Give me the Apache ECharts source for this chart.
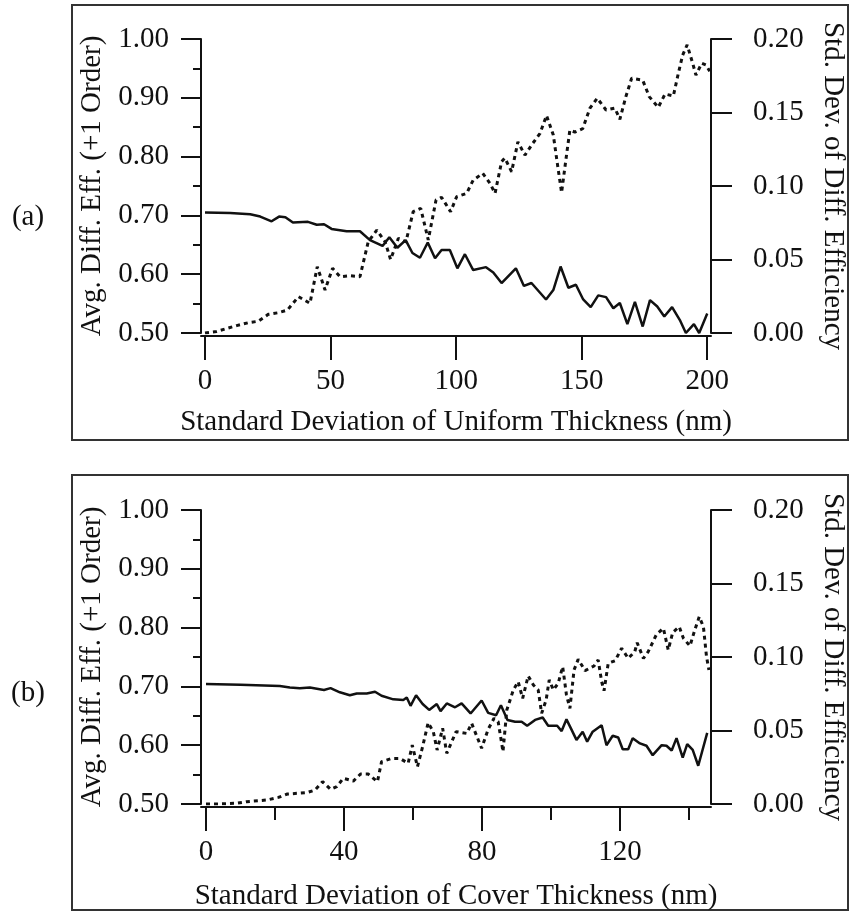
<!DOCTYPE html>
<html><head><meta charset="utf-8">
<script src="https://cdn.jsdelivr.net/npm/echarts@6/dist/echarts.min.js"></script>
<style>html,body{margin:0;padding:0;background:#fff}#c{width:850px;height:911px}</style>
</head><body><div id="c"></div>
<script>
// ---------- Panel (a): Standard Deviation of Uniform Thickness ----------
const aXTicks = [0, 50, 100, 150, 200];
const aAvgX = [0,10,18,22,26.5,29.5,32,35,41,44.5,47.4,50.4,56.4,61.7,65.7,70.7,73.4,76.6,79.9,82.6,85.6,88.7,91.6,94.2,97.5,100.5,103.5,106.8,111.9,114.8,118.1,123.8,127,130,135.8,138.7,141.6,144.7,147.7,150.6,153.6,156.6,159.7,162.6,165.2,168.2,171.2,174.3,177.2,180.1,182.9,186,189.1,191.5,194.7,196.8,200];
const aAvgY = [0.705,0.704,0.702,0.698,0.690,0.698,0.697,0.688,0.689,0.684,0.685,0.677,0.673,0.673,0.658,0.648,0.663,0.645,0.658,0.636,0.628,0.654,0.627,0.641,0.641,0.610,0.634,0.607,0.612,0.603,0.585,0.610,0.580,0.585,0.557,0.573,0.613,0.577,0.582,0.557,0.544,0.564,0.561,0.542,0.551,0.515,0.553,0.511,0.556,0.545,0.528,0.544,0.522,0.500,0.515,0.500,0.533];
const aStdX = [0,4.6,8.6,12.6,17.2,21.2,25.2,29.2,32.8,37.2,41.8,44.7,47.8,50.8,53.8,57.7,61.7,65,68.4,71.7,73.9,77,80,82.9,85.9,88.9,92,94.2,97.8,100.2,104.2,106.8,110.6,113.5,115.5,118.1,119.4,122.1,124.6,127.4,130.5,133.4,136,138.7,140.3,142,143.7,145.3,147.3,150.4,153.3,156.2,159.7,163.2,165.2,167.6,169.9,174.3,176.9,180.5,183.2,186.5,188.5,190.2,192,194.2,195.5,197.8,199.5,201];
const aStdY = [0,0.001,0.003,0.005,0.007,0.008,0.0127,0.0138,0.0156,0.0247,0.0202,0.0451,0.0293,0.044,0.0383,0.039,0.0383,0.0621,0.070,0.0621,0.050,0.0644,0.062,0.0825,0.0848,0.0633,0.0905,0.0923,0.0825,0.0927,0.095,0.104,0.1086,0.1018,0.095,0.1165,0.119,0.1097,0.130,0.121,0.129,0.1358,0.148,0.1347,0.1154,0.0955,0.1177,0.138,0.1367,0.139,0.153,0.1597,0.1517,0.153,0.1454,0.1608,0.1733,0.172,0.1608,0.1535,0.1626,0.1612,0.1767,0.189,0.196,0.1835,0.1755,0.1835,0.1823,0.178];

// ---------- Panel (b): Standard Deviation of Cover Thickness ----------
const bXTicks = [0, 40, 80, 120];
const bXMinorTicks = [20, 60, 100, 140];
const bAvgX = [0,10,21.4,24.3,27.2,30.1,34.2,36.1,38.8,41.7,43.7,46.6,49,50.9,54.3,57.2,58.2,59.3,60.9,62.8,64.7,66.9,68,69.8,72.2,74.1,76.7,79.9,81.8,84.1,85.5,87.4,89.6,91.5,93.1,95.4,97.6,99.2,101.8,103.1,104.5,106,107.4,109.2,110.5,112.1,114.7,116.1,117.9,119.5,120.8,122.4,123.7,125.8,127.7,129.5,132.1,133.5,135,136.4,138.2,139.5,141.1,142.7,145.3];
const bAvgY = [0.704,0.703,0.7007,0.698,0.697,0.698,0.694,0.697,0.690,0.685,0.688,0.688,0.691,0.684,0.678,0.677,0.681,0.667,0.685,0.670,0.660,0.670,0.658,0.671,0.6645,0.671,0.654,0.676,0.655,0.651,0.668,0.643,0.640,0.640,0.633,0.643,0.647,0.633,0.633,0.624,0.644,0.626,0.609,0.623,0.606,0.623,0.634,0.600,0.616,0.613,0.593,0.593,0.612,0.603,0.599,0.583,0.600,0.599,0.591,0.612,0.579,0.602,0.592,0.565,0.621];
const bStdX = [0,2.9,8.9,11.8,17.6,21,23.6,29.2,31.6,33.8,36.1,37.9,39.8,42.7,44.8,47,49.7,50.9,53.8,56.2,58.6,59.8,61.3,62.8,64.4,65.9,67,68.6,69.8,72.5,75.6,77,79.9,81.8,83.5,84.7,86.1,87.2,89.1,90.5,91.8,93.4,94.9,96.3,97.3,98.6,99.5,100.7,102.1,103.4,104.5,105.5,106.7,107.9,109.9,112.5,113.7,114.7,115.4,116.6,118.6,120.5,122.4,124.3,125,126.8,128.2,130.6,132.6,134,135.3,137.2,138.4,140.3,141.7,143,144.2,145.1,145.8];
const bStdY = [0,0,0.0005,0.0016,0.0027,0.0045,0.0068,0.0077,0.0095,0.0152,0.010,0.0118,0.0175,0.0156,0.0204,0.0204,0.0152,0.0288,0.031,0.031,0.0277,0.040,0.0254,0.039,0.0553,0.0492,0.0367,0.0515,0.0345,0.0492,0.048,0.0549,0.0379,0.0508,0.0583,0.056,0.0356,0.0639,0.0776,0.0832,0.0719,0.0871,0.081,0.0776,0.0617,0.0707,0.0844,0.0776,0.0821,0.0934,0.0741,0.0651,0.0912,0.0984,0.0907,0.0939,0.098,0.0832,0.0771,0.0957,0.0975,0.1059,0.0991,0.1036,0.1097,0.0991,0.1036,0.1154,0.1195,0.1048,0.1166,0.1206,0.1127,0.1075,0.1184,0.1274,0.1206,0.1002,0.0912];

// ---------- Axis texts ----------
const leftName = 'Avg. Diff. Eff. (+1 Order)';
const rightName = 'Std. Dev. of Diff. Efficiency';
const aXName = 'Standard Deviation of Uniform Thickness (nm)';
const bXName = 'Standard Deviation of Cover Thickness (nm)';
const panelLabels = ['(a)', '(b)'];

const zip = (xs, ys) => xs.map((x, i) => [x, ys[i]]);
const FONT = '"Liberation Serif", "Times New Roman", serif';
const FS = 29;
const INK = '#111';
const txt = { fontFamily: FONT, fontSize: FS, color: INK };

function xAxisBase(grid, min, max, name, ticks, gap) {
  return {
    type: 'value', gridIndex: grid, position: 'bottom', min: min, max: max, offset: 3,
    name: name, nameLocation: 'middle', nameGap: gap, nameTextStyle: txt,
    axisLine: { show: true, onZero: false, lineStyle: { color: INK, width: 2 } },
    axisTick: { show: true, inside: false, length: 24, customValues: ticks, lineStyle: { color: INK, width: 2 } },
    axisLabel: { show: true, margin: 31, customValues: ticks, ...txt },
    splitLine: { show: false }
  };
}
function leftY(grid) {
  return {
    type: 'value', gridIndex: grid, position: 'left', min: 0.5, max: 1.0, interval: 0.1,
    name: leftName, nameLocation: 'middle', nameGap: 93, nameRotate: 90, nameTextStyle: txt,
    axisLine: { show: true, onZero: false, lineStyle: { color: INK, width: 2 } },
    axisTick: { show: true, inside: false, length: 20, lineStyle: { color: INK, width: 2 } },
    minorTick: { show: true, splitNumber: 2, length: 8, lineStyle: { color: INK, width: 2 } },
    axisLabel: { margin: 32, formatter: v => v.toFixed(2), ...txt },
    splitLine: { show: false }, minorSplitLine: { show: false }
  };
}
function rightY(grid) {
  return {
    type: 'value', gridIndex: grid, position: 'right', min: 0, max: 0.2, interval: 0.05,
    name: rightName, nameLocation: 'middle', nameGap: 107, nameRotate: -90, nameTextStyle: txt,
    axisLine: { show: true, onZero: false, lineStyle: { color: INK, width: 2 } },
    axisTick: { show: true, inside: false, length: 21, lineStyle: { color: INK, width: 2 } },
    axisLabel: { margin: 42, formatter: v => v.toFixed(2), ...txt },
    splitLine: { show: false }
  };
}
const solid = { type: 'solid', color: INK, width: 2.5 };
const dotted = { type: [4, 4], color: INK, width: 3 };

const minorXAxis = {
  type: 'value', gridIndex: 1, position: 'bottom', min: -1.45, max: 146.4, offset: 3,
  axisLine: { show: false, onZero: false },
  axisTick: { show: true, inside: false, length: 13, customValues: bXMinorTicks, lineStyle: { color: INK, width: 2 } },
  axisLabel: { show: false },
  splitLine: { show: false }
};

const option = {
  animation: false,
  backgroundColor: '#fff',
  grid: [
    { left: 201, top: 39, width: 510, height: 294, containLabel: false, outerBoundsMode: 'none' },
    { left: 201, top: 510, width: 510, height: 294, containLabel: false, outerBoundsMode: 'none' }
  ],
  xAxis: [
    xAxisBase(0, -1.6, 201.5, aXName, aXTicks, 72),
    xAxisBase(1, -1.45, 146.4, bXName, bXTicks, 75),
    minorXAxis
  ],
  yAxis: [leftY(0), rightY(0), leftY(1), rightY(1)],
  series: [
    { type: 'line', xAxisIndex: 0, yAxisIndex: 0, data: zip(aAvgX, aAvgY), showSymbol: false, lineStyle: solid },
    { type: 'line', xAxisIndex: 0, yAxisIndex: 1, data: zip(aStdX, aStdY), showSymbol: false, lineStyle: dotted },
    { type: 'line', xAxisIndex: 1, yAxisIndex: 2, data: zip(bAvgX, bAvgY), showSymbol: false, lineStyle: solid },
    { type: 'line', xAxisIndex: 1, yAxisIndex: 3, data: zip(bStdX, bStdY), showSymbol: false, lineStyle: dotted }
  ],
  graphic: [
    { type: 'rect', shape: { x: 72, y: 5, width: 776, height: 435 }, style: { fill: 'none', stroke: '#333', lineWidth: 2 }, silent: true },
    { type: 'rect', shape: { x: 72, y: 475, width: 776, height: 435 }, style: { fill: 'none', stroke: '#333', lineWidth: 2 }, silent: true },
    { type: 'text', x: 28, y: 217, style: { text: panelLabels[0], font: FS + 'px ' + FONT, fill: INK, align: 'center', verticalAlign: 'middle' } },
    { type: 'text', x: 28, y: 693, style: { text: panelLabels[1], font: FS + 'px ' + FONT, fill: INK, align: 'center', verticalAlign: 'middle' } }
  ]
};
const chart = echarts.init(document.getElementById('c'), null, { renderer: 'canvas' });
chart.setOption(option);
</script>
</body></html>
